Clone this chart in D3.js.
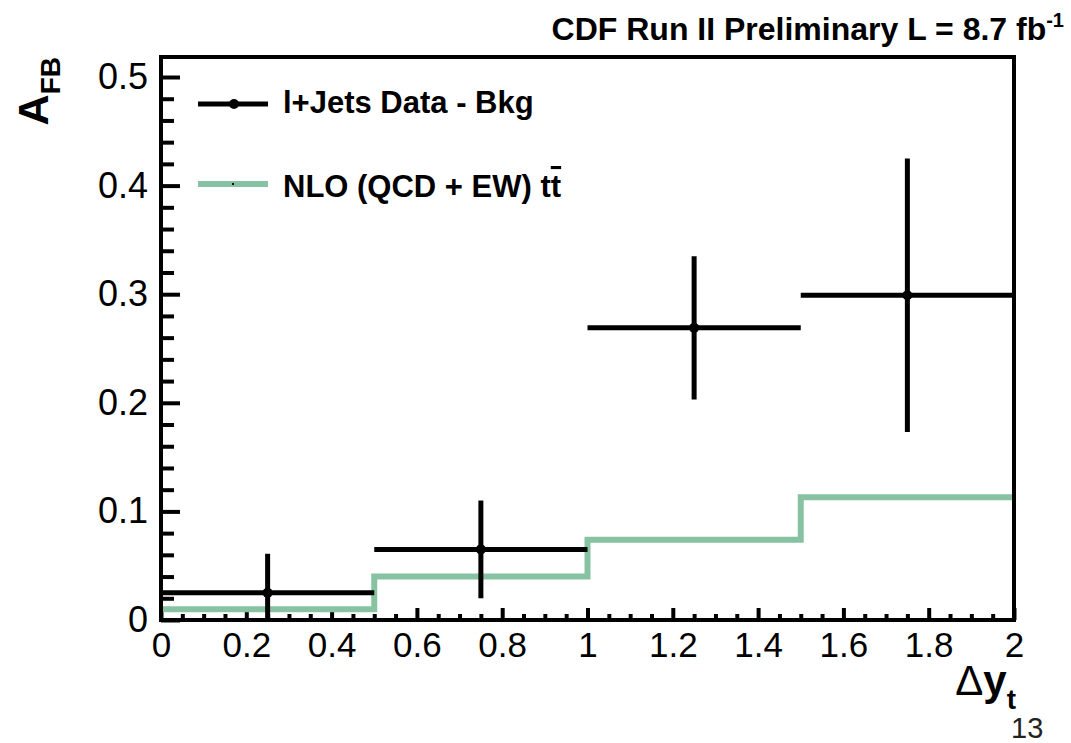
<!DOCTYPE html>
<html>
<head>
<meta charset="utf-8">
<script src="https://cdn.jsdelivr.net/npm/d3@7"></script>
<style>
  body { margin: 0; background: #fff; }
  text { font-family: "Liberation Sans", Arial, Helvetica, sans-serif; fill: #000; }
</style>
</head>
<body>
<div id="chart"></div>
<script>
// bin edges in delta y_t
var binEdges = [0, 0.5, 1.0, 1.5, 2.0];
// data - bkg points (bin centres)
var dataX = [0.25, 0.75, 1.25, 1.75];
var dataY = [0.025, 0.065, 0.269, 0.299];
var dataErr = [0.036, 0.045, 0.066, 0.126];
// NLO (QCD + EW) prediction per bin
var nloY = [0.010, 0.040, 0.074, 0.113];
// ticks
var xMajor = [0, 0.2, 0.4, 0.6, 0.8, 1, 1.2, 1.4, 1.6, 1.8, 2];
var yMajor = [0, 0.1, 0.2, 0.3, 0.4, 0.5];

var svgWidth = 1071;
var svgHeight = 743;
var margin = { top: 57, right: 57, bottom: 123, left: 161 };
var width = svgWidth - margin.left - margin.right;
var height = svgHeight - margin.top - margin.bottom;

var green = "#87c3a3";

var svg = d3.select("#chart")
  .append("svg")
  .attr("width", svgWidth)
  .attr("height", svgHeight);

var chartGroup = svg.append("g")
  .attr("transform", `translate(${margin.left}, ${margin.top})`);

var x = d3.scaleLinear().domain([0, 2]).range([0, width]);
var y = d3.scaleLinear().domain([0, 0.5]).range([height, 77 - margin.top]);

// minor ticks
var xMinor = d3.range(0, 2.0001, 0.05).filter(v => Math.abs(v * 5 - Math.round(v * 5)) > 1e-6);
var yMinor = d3.range(0, 0.5001, 0.02).filter(v => Math.abs(v * 10 - Math.round(v * 10)) > 1e-6);

function styleAxis(g) {
  g.select(".domain").remove();
  g.selectAll("line").attr("stroke", "#000").attr("stroke-width", 4);
}

chartGroup.append("g")
  .attr("transform", `translate(0, ${height})`)
  .call(d3.axisBottom(x).tickValues(xMinor).tickSize(-6).tickFormat(""))
  .call(styleAxis);

chartGroup.append("g")
  .attr("transform", `translate(0, ${height})`)
  .call(d3.axisBottom(x).tickValues(xMajor).tickSize(-12).tickPadding(12).tickFormat(d3.format("")))
  .call(styleAxis)
  .selectAll("text")
  .style("font-size", "35px");

chartGroup.append("g")
  .call(d3.axisLeft(y).tickValues(yMinor).tickSize(-13).tickFormat(""))
  .call(styleAxis);

chartGroup.append("g")
  .call(d3.axisLeft(y).tickValues(yMajor).tickSize(-19).tickPadding(13).tickFormat(d3.format("")))
  .call(styleAxis)
  .selectAll("text")
  .style("font-size", "36px");

// NLO histogram
var nloPts = [];
nloY.forEach((v, i) => {
  nloPts.push([binEdges[i], v]);
  nloPts.push([binEdges[i + 1], v]);
});
chartGroup.append("path")
  .datum(nloPts)
  .attr("fill", "none")
  .attr("stroke", green)
  .attr("stroke-width", 6)
  .attr("d", d3.line().x(d => x(d[0])).y(d => y(d[1])));

// data points with error bars
var pts = chartGroup.selectAll(".pt")
  .data(dataX.map((v, i) => ({ x: v, y: dataY[i], e: dataErr[i], lo: binEdges[i], hi: binEdges[i + 1] })))
  .enter()
  .append("g");

pts.append("line")
  .attr("x1", d => x(d.lo)).attr("x2", d => x(d.hi))
  .attr("y1", d => y(d.y)).attr("y2", d => y(d.y))
  .attr("stroke", "#000").attr("stroke-width", 5);

pts.append("line")
  .attr("x1", d => x(d.x)).attr("x2", d => x(d.x))
  .attr("y1", d => y(d.y + d.e)).attr("y2", d => y(Math.max(0, d.y - d.e)))
  .attr("stroke", "#000").attr("stroke-width", 5);

pts.append("circle")
  .attr("cx", d => x(d.x))
  .attr("cy", d => y(d.y))
  .attr("r", 5)
  .attr("fill", "#000");

// frame
chartGroup.append("rect")
  .attr("width", width)
  .attr("height", height)
  .attr("fill", "none")
  .attr("stroke", "#000")
  .attr("stroke-width", 4);

// legend
var legend = svg.append("g");
legend.append("line")
  .attr("x1", 198).attr("x2", 268).attr("y1", 104).attr("y2", 104)
  .attr("stroke", "#000").attr("stroke-width", 5);
legend.append("circle")
  .attr("cx", 234).attr("cy", 104).attr("r", 5).attr("fill", "#000");
legend.append("text")
  .attr("x", 283).attr("y", 113)
  .style("font-size", "31px").style("font-weight", "bold")
  .text("l+Jets Data - Bkg");

legend.append("line")
  .attr("x1", 198).attr("x2", 268).attr("y1", 184).attr("y2", 184)
  .attr("stroke", green).attr("stroke-width", 6);
legend.append("rect")
  .attr("x", 232).attr("y", 183).attr("width", 2).attr("height", 2).attr("fill", "#000");
var nloText = legend.append("text")
  .attr("x", 283).attr("y", 197)
  .style("font-size", "31px").style("font-weight", "bold");
nloText.append("tspan").text("NLO (QCD + EW) t");
nloText.append("tspan").style("text-decoration", "overline").text("t");

// title
var title = svg.append("text")
  .attr("x", 1064).attr("y", 40)
  .attr("text-anchor", "end")
  .style("font-size", "32px").style("font-weight", "bold");
title.append("tspan").text("CDF Run II Preliminary L = 8.7 fb");
title.append("tspan").attr("dy", -13).style("font-size", "20px").text("-1");

// y title
var yTitle = svg.append("text")
  .attr("transform", "translate(48, 57) rotate(-90)")
  .attr("text-anchor", "end")
  .style("font-weight", "bold");
yTitle.append("tspan").style("font-size", "43px").text("A");
yTitle.append("tspan").attr("dy", 12).style("font-size", "28px").text("FB");

// x title
var xTitle = svg.append("text")
  .attr("x", 1016).attr("y", 695)
  .attr("text-anchor", "end")
  .style("font-size", "42px");
xTitle.append("tspan").text("\u0394");
xTitle.append("tspan").style("font-weight", "bold").text("y");
xTitle.append("tspan").attr("dy", 14).style("font-size", "28px").style("font-weight", "bold").text("t");

// page number
svg.append("text")
  .attr("x", 1011).attr("y", 738)
  .style("font-size", "29px")
  .style("fill", "#222")
  .text("13");
</script>
</body>
</html>
